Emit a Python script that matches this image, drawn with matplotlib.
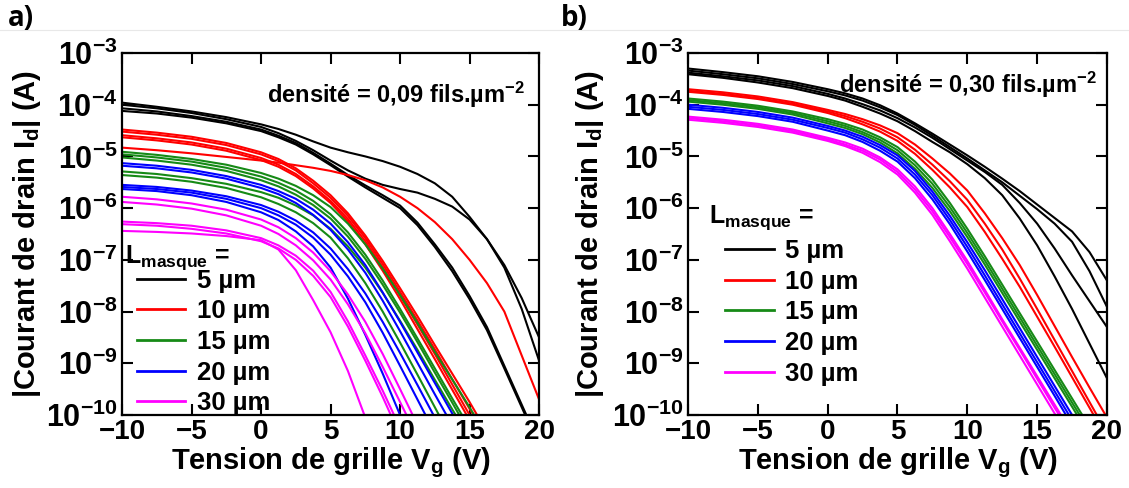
import numpy as np
import matplotlib
matplotlib.use('Agg')
import matplotlib.pyplot as plt
from matplotlib.lines import Line2D
from matplotlib.ticker import NullLocator

plt.rcParams['font.family'] = ['Liberation Sans', 'DejaVu Sans']
plt.rcParams['font.weight'] = 'bold'
plt.rcParams['axes.labelweight'] = 'bold'
plt.rcParams['mathtext.fontset'] = 'custom'
plt.rcParams['mathtext.rm'] = 'Liberation Sans:bold'
plt.rcParams['mathtext.bf'] = 'Liberation Sans:bold'
plt.rcParams['mathtext.it'] = 'Liberation Sans:bold'
plt.rcParams['mathtext.default'] = 'bf'

# tension de grille (V)
vg = [-10, -7.5, -5, -2.5, 0, 1.25, 2.5, 3.75, 5, 6.25, 7.5, 8.75, 10,
      11.25, 12.5, 13.75, 15, 16.25, 17.5, 18.75, 20]

# log10(|Id|) -- panneau a) densite 0,09
a_noir = [
    [-3.96, -4.04, -4.13, -4.24, -4.38, -4.47, -4.58, -4.71, -4.83, -4.92, -5.00, -5.09, -5.20, -5.34, -5.52, -5.78, -6.17, -6.60, -7.10, -7.74, -8.50],
    [-4.00, -4.07, -4.16, -4.28, -4.43, -4.55, -4.70, -4.88, -5.08, -5.27, -5.43, -5.55, -5.63, -5.70, -5.82, -5.97, -6.22, -6.60, -7.15, -7.95, -8.95],
    [-4.07, -4.13, -4.22, -4.33, -4.48, -4.60, -4.74, -4.93, -5.14, -5.36, -5.56, -5.75, -5.95, -6.28, -6.70, -7.15, -7.70, -8.30, -9.05, -9.80, -10.55],
    [-4.12, -4.17, -4.25, -4.36, -4.51, -4.63, -4.77, -4.96, -5.17, -5.39, -5.60, -5.80, -6.00, -6.33, -6.75, -7.22, -7.76, -8.36, -9.10, -9.85, -10.6],
]
a_rouge = [
    [-4.48, -4.54, -4.62, -4.74, -4.92, -5.05, -5.23, -5.47, -5.75, -6.10, -6.53, -7.02, -7.55, -8.09, -8.65, -9.20, -9.75, -10.33, -10.9, -11.45, -12.0],
    [-4.52, -4.58, -4.66, -4.78, -4.96, -5.09, -5.27, -5.52, -5.80, -6.15, -6.58, -7.08, -7.62, -8.17, -8.73, -9.31, -9.88, -10.44, -11.0, -11.5, -12.0],
    [-4.59, -4.65, -4.73, -4.85, -5.03, -5.16, -5.34, -5.58, -5.86, -6.21, -6.64, -7.14, -7.69, -8.25, -8.82, -9.41, -10.0, -10.55, -11.1, -11.55, -12.0],
    [-4.63, -4.69, -4.77, -4.89, -5.07, -5.20, -5.38, -5.62, -5.90, -6.26, -6.70, -7.21, -7.76, -8.34, -8.92, -9.51, -10.1, -10.65, -11.2, -11.6, -12.0],
    [-4.83, -4.88, -4.94, -5.01, -5.08, -5.12, -5.17, -5.22, -5.28, -5.36, -5.46, -5.60, -5.78, -6.00, -6.27, -6.60, -7.00, -7.45, -8.00, -8.85, -9.70],
]
a_vert = [
    [-4.91, -4.97, -5.05, -5.16, -5.32, -5.43, -5.57, -5.75, -5.98, -6.30, -6.70, -7.17, -7.68, -8.22, -8.78, -9.31, -9.85, -10.42, -11.0, -11.5, -12.0],
    [-4.96, -5.02, -5.10, -5.22, -5.39, -5.51, -5.66, -5.86, -6.12, -6.47, -6.90, -7.40, -7.95, -8.52, -9.10, -9.68, -10.25, -10.83, -11.4, -11.7, -12.0],
    [-5.02, -5.08, -5.16, -5.28, -5.46, -5.58, -5.74, -5.94, -6.20, -6.55, -6.98, -7.48, -8.02, -8.59, -9.18, -9.76, -10.35, -10.93, -11.5, -11.8, -12.0],
    [-5.29, -5.34, -5.42, -5.53, -5.69, -5.80, -5.95, -6.14, -6.40, -6.74, -7.15, -7.64, -8.18, -8.74, -9.32, -9.89, -10.45, -11.0, -11.6, -11.8, -12.0],
    [-5.36, -5.41, -5.49, -5.61, -5.79, -5.92, -6.08, -6.29, -6.57, -6.97, -7.45, -8.00, -8.60, -9.22, -9.85, -10.48, -11.1, -11.5, -12.0, -12.0, -12.0],
]
a_bleu = [
    [-5.13, -5.18, -5.26, -5.38, -5.55, -5.67, -5.82, -6.03, -6.30, -6.66, -7.10, -7.63, -8.20, -8.79, -9.38, -9.97, -10.55, -11.1, -11.7, -12.0, -12.0],
    [-5.18, -5.23, -5.31, -5.43, -5.61, -5.73, -5.90, -6.13, -6.42, -6.80, -7.25, -7.79, -8.38, -8.99, -9.60, -10.2, -10.8, -11.4, -12.0, -12.0, -12.0],
    [-5.55, -5.59, -5.66, -5.77, -5.94, -6.07, -6.24, -6.47, -6.78, -7.18, -7.65, -8.20, -8.80, -9.42, -10.05, -10.68, -11.3, -11.6, -12.0, -12.0, -12.0],
    [-5.59, -5.63, -5.70, -5.82, -6.00, -6.14, -6.32, -6.57, -6.90, -7.32, -7.82, -8.41, -9.05, -9.70, -10.35, -10.98, -11.6, -12.0, -12.0, -12.0, -12.0],
    [-5.63, -5.67, -5.75, -5.88, -6.08, -6.23, -6.45, -6.74, -7.15, -7.75, -8.45, -9.20, -10.0, -10.75, -11.5, -12.0, -12.0, -12.0, -12.0, -12.0, -12.0],
]
a_magenta = [
    [-5.78, -5.83, -5.91, -6.03, -6.22, -6.37, -6.58, -6.86, -7.22, -7.67, -8.20, -8.82, -9.50, -10.19, -10.9, -11.5, -12.0, -12.0, -12.0, -12.0, -12.0],
    [-5.88, -5.93, -6.01, -6.14, -6.34, -6.50, -6.72, -7.01, -7.38, -7.86, -8.42, -9.07, -9.75, -10.43, -11.1, -11.5, -12.0, -12.0, -12.0, -12.0, -12.0],
    [-6.26, -6.29, -6.34, -6.43, -6.58, -6.72, -6.92, -7.21, -7.62, -8.19, -8.85, -9.53, -10.25, -10.9, -11.6, -12.0, -12.0, -12.0, -12.0, -12.0, -12.0],
    [-6.31, -6.34, -6.40, -6.49, -6.64, -6.78, -7.00, -7.31, -7.72, -8.29, -8.95, -9.65, -10.4, -11.1, -11.8, -12.0, -12.0, -12.0, -12.0, -12.0, -12.0],
    [-6.44, -6.46, -6.49, -6.54, -6.62, -6.80, -7.20, -7.78, -8.40, -9.15, -10.05, -11.0, -12.0, -12.0, -12.0, -12.0, -12.0, -12.0, -12.0, -12.0, -12.0],
]

# panneau b) densite 0,30
b_noir = [
    [-3.30, -3.37, -3.45, -3.56, -3.70, -3.78, -3.88, -4.01, -4.17, -4.36, -4.56, -4.77, -4.98, -5.20, -5.43, -5.67, -5.93, -6.19, -6.45, -6.85, -7.40],
    [-3.34, -3.41, -3.49, -3.60, -3.74, -3.82, -3.92, -4.05, -4.20, -4.39, -4.60, -4.82, -5.04, -5.27, -5.50, -5.76, -6.02, -6.30, -6.65, -7.22, -7.91],
    [-3.38, -3.45, -3.53, -3.64, -3.79, -3.88, -3.99, -4.11, -4.26, -4.44, -4.64, -4.86, -5.08, -5.30, -5.55, -5.90, -6.30, -6.78, -7.30, -7.80, -8.30],
    [-3.41, -3.48, -3.57, -3.68, -3.83, -3.92, -4.04, -4.17, -4.32, -4.51, -4.72, -4.92, -5.15, -5.42, -5.75, -6.20, -6.72, -7.32, -7.95, -8.62, -9.29],
]
b_rouge = [
    [-3.70, -3.76, -3.84, -3.95, -4.10, -4.18, -4.28, -4.40, -4.55, -4.77, -5.04, -5.33, -5.66, -6.10, -6.58, -7.10, -7.68, -8.28, -8.88, -9.47, -10.05],
    [-3.73, -3.79, -3.87, -3.98, -4.13, -4.22, -4.33, -4.46, -4.63, -4.87, -5.16, -5.48, -5.84, -6.30, -6.80, -7.36, -7.95, -8.55, -9.15, -9.75, -10.35],
    [-3.75, -3.81, -3.89, -4.00, -4.16, -4.26, -4.38, -4.52, -4.70, -4.95, -5.26, -5.60, -5.98, -6.46, -6.98, -7.52, -8.10, -8.68, -9.27, -9.86, -10.45],
]
b_vert = [
    [-3.88, -3.94, -4.02, -4.13, -4.28, -4.37, -4.48, -4.63, -4.82, -5.10, -5.45, -5.90, -6.40, -6.93, -7.48, -8.03, -8.58, -9.13, -9.68, -10.23, -10.8],
    [-3.91, -3.97, -4.05, -4.16, -4.32, -4.41, -4.53, -4.68, -4.88, -5.17, -5.53, -5.98, -6.48, -7.01, -7.56, -8.11, -8.66, -9.21, -9.76, -10.31, -10.9],
    [-3.94, -4.00, -4.08, -4.19, -4.36, -4.45, -4.57, -4.73, -4.94, -5.24, -5.61, -6.06, -6.56, -7.09, -7.64, -8.19, -8.74, -9.29, -9.84, -10.39, -10.95],
]
b_bleu = [
    [-4.00, -4.06, -4.14, -4.25, -4.41, -4.50, -4.62, -4.78, -4.98, -5.28, -5.68, -6.15, -6.66, -7.20, -7.76, -8.32, -8.88, -9.44, -10.0, -10.55, -11.1],
    [-4.04, -4.10, -4.18, -4.29, -4.45, -4.54, -4.67, -4.83, -5.04, -5.35, -5.75, -6.23, -6.75, -7.30, -7.86, -8.42, -8.98, -9.54, -10.1, -10.65, -11.2],
    [-4.08, -4.14, -4.22, -4.33, -4.50, -4.59, -4.72, -4.89, -5.10, -5.42, -5.83, -6.31, -6.84, -7.39, -7.95, -8.51, -9.07, -9.63, -10.2, -10.75, -11.3],
]
b_magenta = [
    [-4.23, -4.29, -4.37, -4.48, -4.64, -4.73, -4.85, -5.02, -5.25, -5.58, -6.00, -6.50, -7.02, -7.58, -8.15, -8.70, -9.25, -9.80, -10.35, -10.9, -11.4],
    [-4.26, -4.32, -4.40, -4.51, -4.67, -4.77, -4.89, -5.06, -5.30, -5.64, -6.06, -6.56, -7.08, -7.63, -8.19, -8.74, -9.30, -9.86, -10.4, -10.95, -11.5],
    [-4.29, -4.35, -4.43, -4.54, -4.70, -4.80, -4.93, -5.11, -5.35, -5.70, -6.13, -6.64, -7.17, -7.73, -8.29, -8.85, -9.41, -9.97, -10.5, -11.05, -11.6],
]

longueurs = ['5 µm', '10 µm', '15 µm', '20 µm', '30 µm']
couleurs = ['black', '#ff0000', '#168a16', '#0000ff', '#ff00ff']


def trace_panneau(ax, groupes, densite, txt_pos, leg_pos, titre_pos):
    for groupe, c in zip(groupes, couleurs):
        for courbe in groupe:
            ax.semilogy(vg, 10.0 ** np.array(courbe), color=c, lw=1.5)

    ax.set_xlim(-10, 20)
    ax.set_ylim(1e-10, 1e-3)
    ax.set_xticks([-10, -5, 0, 5, 10, 15, 20])
    ax.set_yticks(10.0 ** np.arange(-10, -2))
    ax.yaxis.set_minor_locator(NullLocator())
    ax.tick_params(which='both', direction='in', top=True, right=True,
                   length=8, width=1.5, pad=3)
    ax.tick_params(axis='x', labelsize=20)
    ax.tick_params(axis='y', labelsize=22)
    for s in ax.spines.values():
        s.set_linewidth(1.6)

    ax.set_xlabel('Tension de grille V$_g$ (V)', fontsize=21)
    ax.set_ylabel('|Courant de drain I$_d$| (A)', fontsize=21)
    ax.xaxis.set_label_coords(0.5, -0.085)

    ax.text(txt_pos[0], txt_pos[1], 'densité = ' + densite + ' fils.µm$^{-2}$',
            transform=ax.transAxes, ha='right', va='center', fontsize=17)

    ax.text(titre_pos[0], titre_pos[1], 'L$_{masque}$ =', transform=ax.transAxes,
            ha='left', va='baseline', fontsize=18)
    handles = [Line2D([], [], color=c, lw=2) for c in couleurs]
    ax.legend(handles, longueurs, loc='upper left', bbox_to_anchor=leg_pos,
              frameon=False, fontsize=18.5, handlelength=1.9, handletextpad=0.45,
              labelspacing=0.26, borderpad=0, borderaxespad=0)


fig = plt.figure(figsize=(11.29, 4.88), dpi=100)
ax_a = fig.add_axes([0.1081, 0.1496, 0.3694, 0.7418])
ax_b = fig.add_axes([0.6094, 0.1496, 0.3711, 0.7418])

trace_panneau(ax_a, [a_noir, a_rouge, a_vert, a_bleu, a_magenta], '0,09',
              (0.966, 0.884), (0.035, 0.404), (0.007, 0.42))
trace_panneau(ax_b, [b_noir, b_rouge, b_vert, b_bleu, b_magenta], '0,30',
              (0.976, 0.912), (0.088, 0.486), (0.05, 0.53))
ax_a.yaxis.set_label_coords(-0.19, 0.5)
ax_b.yaxis.set_label_coords(-0.196, 0.5)

fig.add_artist(Line2D([0.0, 1.0], [1 - 30 / 488, 1 - 30 / 488], color='#e8e8e8',
                      lw=0.8, transform=fig.transFigure))
fig.text(0.007, 0.992, 'a)', fontsize=20, family=['Open Sans', 'DejaVu Sans'],
         weight='bold', va='top')
fig.text(0.497, 0.992, 'b)', fontsize=20, family=['Open Sans', 'DejaVu Sans'],
         weight='bold', va='top')

fig.savefig('out.png', dpi=100)
